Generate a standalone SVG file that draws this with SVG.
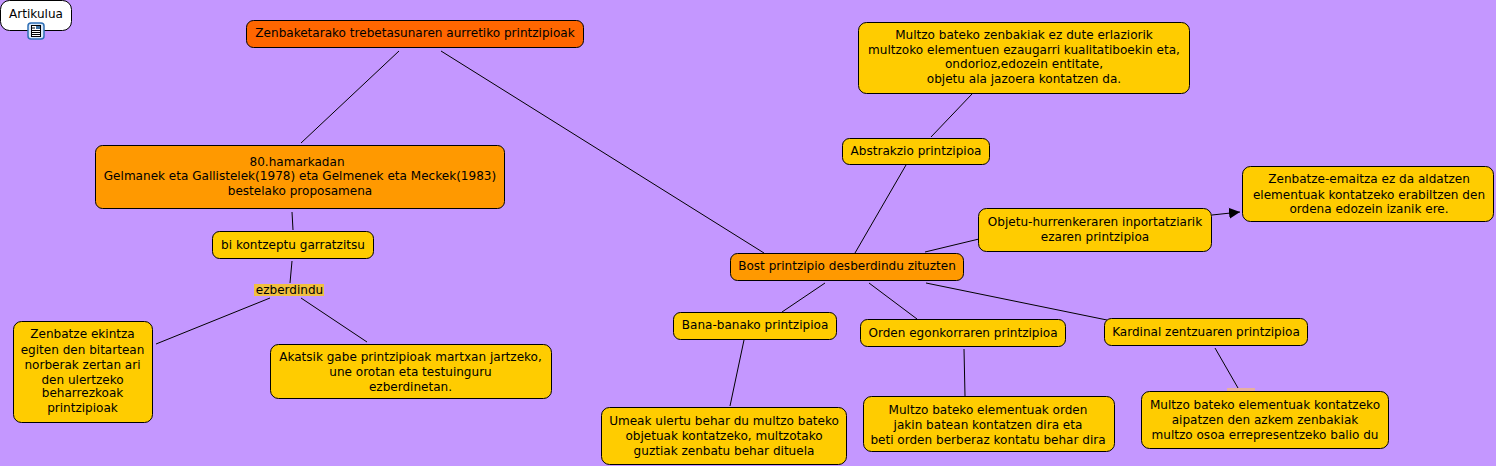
<svg xmlns="http://www.w3.org/2000/svg" width="1496" height="466" viewBox="0 0 1496 466">
<style>
.n{stroke:#000;stroke-width:1}
.y{fill:#ffcc00}.o{fill:#ff9900}.r{fill:#ff6600}.w{fill:#fff}
text{font-family:"DejaVu Sans",Verdana,sans-serif;font-size:12.05px;fill:#000;text-anchor:middle}
#connectors line{stroke:#000;stroke-width:1}
</style>
<defs><marker id="arrow" markerWidth="13" markerHeight="13" refX="11" refY="6" orient="auto" markerUnits="userSpaceOnUse"><path d="M0 0.500L11 6L0 11.500Z" fill="#000"/></marker></defs>
<rect width="1496" height="466" fill="#c497ff"/>
<g id="connectors">
<line x1="399" y1="51" x2="301" y2="143"/>
<line x1="441" y1="51" x2="764" y2="253"/>
<line x1="292" y1="212" x2="293" y2="230"/>
<line x1="292" y1="261" x2="290" y2="283"/>
<line x1="270" y1="298" x2="156" y2="344"/>
<line x1="301" y1="298" x2="367" y2="342"/>
<line x1="972" y1="94" x2="931" y2="137"/>
<line x1="906" y1="165" x2="855" y2="253"/>
<line x1="925" y1="252" x2="979" y2="239"/>
<line x1="1212" y1="215" x2="1240" y2="212" marker-end="url(#arrow)"/>
<line x1="825" y1="283" x2="782" y2="312"/>
<line x1="869" y1="283" x2="917" y2="319"/>
<line x1="926" y1="283" x2="1107" y2="320"/>
<line x1="744" y1="340" x2="730" y2="406"/>
<line x1="964" y1="349" x2="965" y2="396"/>
<line x1="1215" y1="348" x2="1238" y2="388"/>
</g>
<g id="n-artikulua"><rect class="n w" x="0.500" y="0.500" width="71" height="30" rx="9"/><text x="36" y="18">Artikulua</text>
<g id="icon"><rect x="28" y="23" width="16" height="16" rx="3" fill="#dbe9f8" stroke="#2f6fb5" stroke-width="1.500"/><rect x="31.500" y="25.500" width="9" height="11" fill="#fff" stroke="#000"/><path d="M32 28h3M32 30.500h8M32 32.500h8M32 34.500h8" stroke="#000" fill="none"/><rect x="36" y="26" width="4" height="3" fill="#3d6f9e"/></g></g>
<g id="n-zenbaketarako"><rect class="n r" x="246.500" y="20.500" width="337" height="27" rx="7"/><text x="415" y="37">Zenbaketarako trebetasunaren aurretiko printzipioak</text></g>
<g id="n-80"><rect class="n o" x="95.500" y="145.500" width="409" height="63" rx="7"/><text x="297" y="166">80.hamarkadan</text><text x="300" y="180">Gelmanek eta Gallistelek(1978) eta Gelmenek eta Meckek(1983)</text><text x="300" y="195">bestelako proposamena</text></g>
<g id="n-bi"><rect class="n y" x="212.500" y="231.500" width="161" height="27" rx="7"/><text x="293" y="249">bi kontzeptu garratzitsu</text></g>
<g id="n-ezberdindu"><rect x="254" y="284" width="70" height="12" fill="#ffcc00" opacity="0.75"/><text x="289.500" y="294">ezberdindu</text></g>
<g id="n-zenbatze"><rect class="n y" x="13.500" y="321.500" width="139" height="101" rx="8"/><text x="82.500" y="338">Zenbatze ekintza</text><text x="82.500" y="354">egiten den bitartean</text><text x="82.500" y="369">norberak zertan ari</text><text x="82.500" y="384">den ulertzeko</text><text x="82.500" y="397">beharrezkoak</text><text x="82.500" y="412">printzipioak</text></g>
<g id="n-akatsik"><rect class="n y" x="270.500" y="344.500" width="281" height="54" rx="8"/><text x="410.500" y="361">Akatsik gabe printzipioak martxan jartzeko,</text><text x="410.500" y="376">une orotan eta testuinguru</text><text x="410.500" y="391">ezberdinetan.</text></g>
<g id="n-multzo1"><rect class="n y" x="858.500" y="22.500" width="331" height="71" rx="8"/><text x="1024" y="39">Multzo bateko zenbakiak ez dute erlaziorik</text><text x="1024" y="54">multzoko elementuen ezaugarri kualitatiboekin eta,</text><text x="1024" y="68">ondorioz,edozein entitate,</text><text x="1024" y="83">objetu ala jazoera kontatzen da.</text></g>
<g id="n-abstrakzio"><rect class="n y" x="842.500" y="138.500" width="147" height="26" rx="7"/><text x="916" y="155">Abstrakzio printzipioa</text></g>
<g id="n-objetu"><rect class="n y" x="978.500" y="208.500" width="233" height="43" rx="8"/><text x="1095" y="226">Objetu-hurrenkeraren inportatziarik</text><text x="1095" y="241">ezaren printzipioa</text></g>
<g id="n-emaitza"><rect class="n y" x="1242.500" y="166.500" width="251" height="55" rx="8"/><text x="1369" y="183">Zenbatze-emaitza ez da aldatzen</text><text x="1369" y="199">elementuak kontatzeko erabiltzen den</text><text x="1369" y="213">ordena edozein izanik ere.</text></g>
<g id="n-bost"><rect class="n o" x="730.500" y="253.500" width="233" height="27" rx="7"/><text x="847" y="270">Bost printzipio desberdindu zituzten</text></g>
<g id="n-bana"><rect class="n y" x="673.500" y="312.500" width="163" height="27" rx="7"/><text x="755" y="329">Bana-banako printzipioa</text></g>
<g id="n-orden"><rect class="n y" x="860.500" y="319.500" width="205" height="27" rx="7"/><text x="963" y="337">Orden egonkorraren printzipioa</text></g>
<g id="n-kardinal"><rect class="n y" x="1104.500" y="318.500" width="203" height="27" rx="7"/><text x="1206" y="336">Kardinal zentzuaren printzipioa</text></g>
<g id="n-umeak"><rect class="n y" x="601.500" y="407.500" width="245" height="57" rx="8"/><text x="724" y="425">Umeak ulertu behar du multzo bateko</text><text x="724" y="440">objetuak kontatzeko, multzotako</text><text x="724" y="455">guztiak zenbatu behar dituela</text></g>
<g id="n-multzo2"><rect class="n y" x="863.500" y="396.500" width="251" height="55" rx="8"/><text x="988" y="414">Multzo bateko elementuak orden</text><text x="988" y="429">jakin batean kontatzen dira eta</text><text x="988" y="444">beti orden berberaz kontatu behar dira</text></g>
<g id="n-multzo3"><rect x="1227" y="388" width="28" height="4" fill="#e8b0a0"/><rect class="n y" x="1141.500" y="391.500" width="247" height="57" rx="8"/><text x="1265" y="409">Multzo bateko elementuak kontatzeko</text><text x="1265" y="424">aipatzen den azkem zenbakiak</text><text x="1265" y="439">multzo osoa errepresentzeko balio du</text></g>
</svg>
